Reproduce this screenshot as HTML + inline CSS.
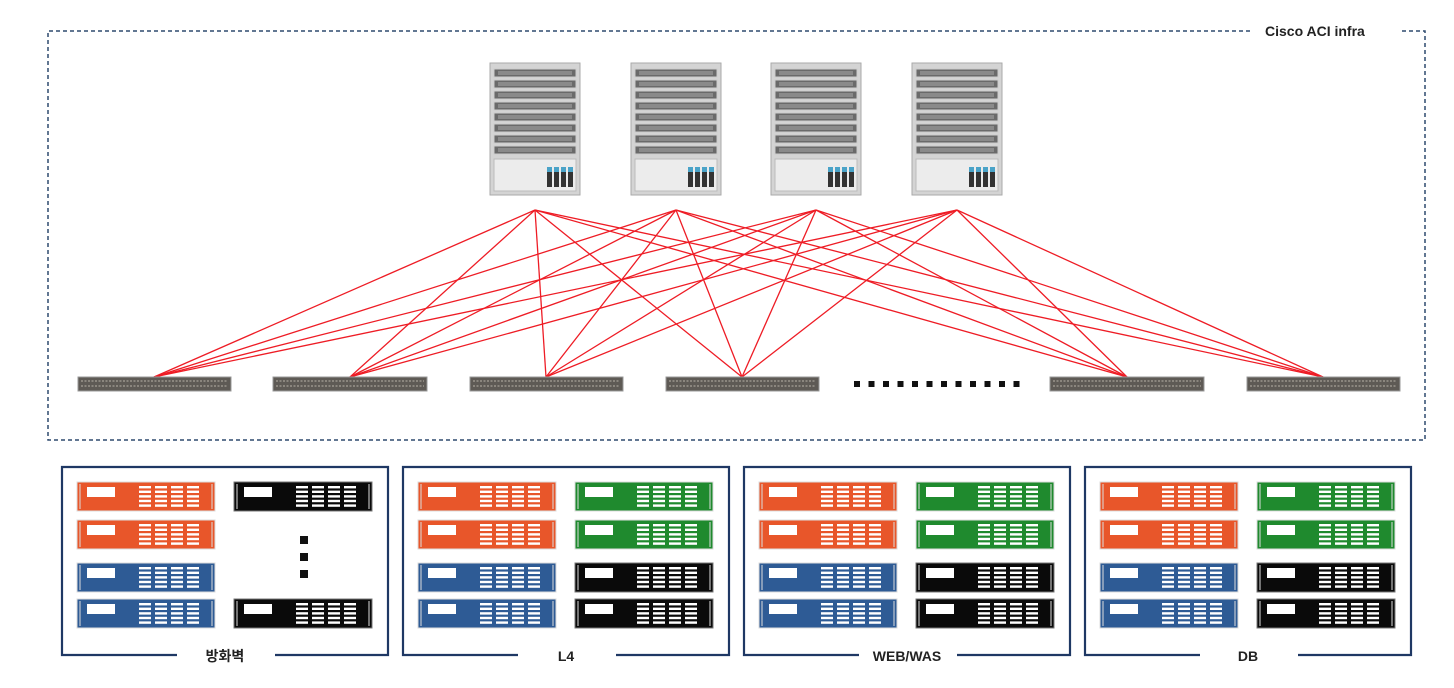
<!DOCTYPE html>
<html><head><meta charset="utf-8"><style>
html,body{margin:0;padding:0;background:#fff;width:1454px;height:688px;overflow:hidden}
svg{display:block}
text{font-family:"Liberation Sans","Noto Sans CJK KR",sans-serif}
</style></head><body>
<svg id="s" width="1454" height="688" xmlns="http://www.w3.org/2000/svg">
<path d="M1250 31 H48 V440 H1425 V31 H1400" fill="none" stroke="#2f4a6e" stroke-width="1.5" stroke-dasharray="4,3"/>
<text x="1265" y="36" font-size="14" font-weight="bold" fill="#222">Cisco ACI infra</text>
<g id="links" stroke="#ee1c25" stroke-width="1.3"></g>
<g id="dev"></g>
<text x="225" y="661" font-size="14" font-weight="bold" fill="#222" text-anchor="middle">방화벽</text>
<text x="566" y="661" font-size="14" font-weight="bold" fill="#222" text-anchor="middle">L4</text>
<text x="907" y="661" font-size="14" font-weight="bold" fill="#222" text-anchor="middle">WEB/WAS</text>
<text x="1248" y="661" font-size="14" font-weight="bold" fill="#222" text-anchor="middle">DB</text>
</svg>
<script>
var NS="http://www.w3.org/2000/svg";
function el(p,t,a){var e=document.createElementNS(NS,t);for(var k in a)e.setAttribute(k,a[k]);p.appendChild(e);return e;}
var L=document.getElementById('links'),D=document.getElementById('dev');
var sp=[535,676,816,957], lf=[154,350,546,742,1127,1323];
sp.forEach(function(a){lf.forEach(function(b){el(L,'line',{x1:a,y1:210,x2:b,y2:377});});});
// spines
sp.forEach(function(c){
 var x=c-45,y=63;
 el(D,'rect',{x:x,y:y,width:90,height:132,fill:'#d4d4d4',stroke:'#aaa'});
 for(var i=0;i<8;i++){el(D,'rect',{x:x+4,y:y+6+i*11,width:82,height:8,fill:'#6a6a6a',stroke:'#ccc','stroke-width':1});
  el(D,'rect',{x:x+8,y:y+8+i*11,width:74,height:4,fill:'#8a8a8a'});}
 el(D,'rect',{x:x+4,y:y+96,width:82,height:32,fill:'#ececec',stroke:'#bbb'});
 for(var j=0;j<4;j++)el(D,'rect',{x:x+57+j*7,y:y+104,width:5,height:20,fill:'#333'});
 for(var j=0;j<4;j++)el(D,'rect',{x:x+57+j*7,y:y+104,width:5,height:5,fill:'#4aa3c8'});
});
// leaves
[[78,231],[273,427],[470,623],[666,819],[1050,1204],[1247,1400]].forEach(function(p){
 el(D,'rect',{x:p[0],y:377,width:p[1]-p[0],height:14,fill:'#5e5a55',stroke:'#999'});
 el(D,'line',{x1:p[0]+3,y1:381,x2:p[1]-3,y2:381,stroke:'#9a948c','stroke-width':1.5,'stroke-dasharray':'2,1.5'});
 el(D,'line',{x1:p[0]+3,y1:386,x2:p[1]-3,y2:386,stroke:'#9a948c','stroke-width':1.5,'stroke-dasharray':'2,1.5'});
});
for(var i=0;i<12;i++)el(D,'rect',{x:854+i*14.5,y:381,width:6,height:6,fill:'#111'});
// groups
var C={o:'#e8562a',b:'#2e5b95',g:'#1f8a2e',k:'#0a0a0a'};
function srv(x,y,c){
 var w=138,h=29;
 el(D,'rect',{x:x,y:y,width:w,height:h,fill:C[c],stroke:c=='k'?'#777':'#ddd','stroke-width':1});
 el(D,'line',{x1:x+3,y1:y+2,x2:x+3,y2:y+h-2,stroke:'#ddd','stroke-width':1});
 el(D,'line',{x1:x+w-3,y1:y+2,x2:x+w-3,y2:y+h-2,stroke:'#ddd','stroke-width':1});
 el(D,'rect',{x:x+10,y:y+5,width:28,height:10,fill:'#fff'});
 for(var a=0;a<4;a++)for(var b=0;b<5;b++)el(D,'rect',{x:x+62+a*16,y:y+4+b*4.6,width:12,height:2.4,fill:'#fff'});
}
var gx=[62,403,744,1085];
gx.forEach(function(x,gi){
 var w=326;
 el(D,'path',{d:'M'+(x+115)+' 655 H'+x+' V467 H'+(x+w)+' V655 H'+(x+213),fill:'none',stroke:'#1f3864','stroke-width':2.2});
 var ys=[482,520,563,599];
 var c1=['o','o','b','b'], c2=gi==0?['k',null,null,'k']:['g','g','k','k'];
 ys.forEach(function(y,i){srv(x+15,y,c1[i]); if(c2[i])srv(x+172,y,c2[i]);});
 if(gi==0){[536,553,570].forEach(function(y){el(D,'rect',{x:300,y:y,width:8,height:8,fill:'#111'});});}
});
</script>
</body></html>
